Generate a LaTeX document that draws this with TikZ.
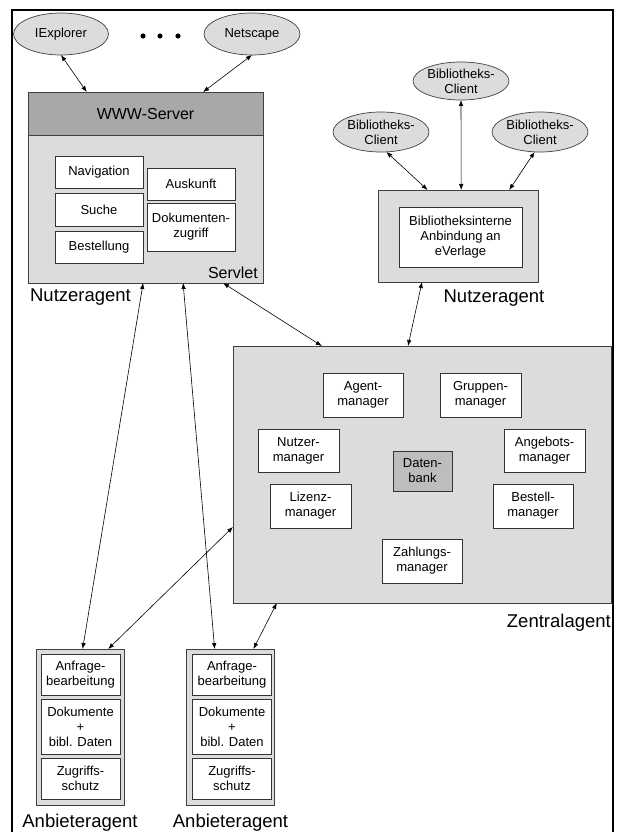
\documentclass[tikz,border=0pt]{standalone}
\usepackage{fontspec}
\setmainfont{Liberation Sans}
\usetikzlibrary{arrows.meta, calc, shapes.geometric}

\definecolor{panelgray}{HTML}{DCDCDC}
\definecolor{headgray}{HTML}{A8A8A8}
\definecolor{dbgray}{HTML}{BDBDBD}

\tikzset{
  box/.style={draw=black!80, fill=white, line width=0.8pt, inner sep=0pt, outer sep=0pt,
    align=center, font=\fontsize{13}{15}\selectfont},
  panel/.style={draw=black!75, fill=panelgray, line width=0.8pt, inner sep=0pt, outer sep=0pt},
  client/.style={ellipse, draw=black!75, fill=panelgray, line width=0.7pt, inner sep=0pt,
    outer sep=0pt, align=center, font=\fontsize{13}{15}\selectfont},
  agentlabel/.style={inner sep=0pt, font=\fontsize{18.5}{20}\selectfont},
  link/.style={{Latex[length=6pt,width=4.5pt]}-{Latex[length=6pt,width=4.5pt]}, line width=0.6pt}
}

\begin{document}
\begin{tikzpicture}[x=1pt, y=-1pt]
    \useasboundingbox (0,0) rectangle (618,832);
    % Frame
    \draw[line width=1.5pt] (12,832) -- (12,10) -- (613,10) -- (613,832);

    % Browsers
    \node[client, minimum width=95pt, minimum height=42pt] (ie) at (61,34) {IExplorer};
    \node[client, minimum width=96pt, minimum height=42pt] (ns) at (252,34) {Netscape};
    \foreach \x in {143,160,178}
        \fill (\x,36) circle (2.6pt);

    % Nutzeragent (WWW)
    \node[panel, minimum width=235pt, minimum height=191pt] (www) at (145.5,187.5) {};
    \node[panel, fill=headgray, minimum width=235pt, minimum height=43pt,
        font=\fontsize{16}{18}\selectfont] (head) at (145.5,113.5) {WWW-Server};
    \node[box, minimum width=88pt, minimum height=32pt] (nav) at (99,172) {Navigation};
    \node[box, minimum width=88pt, minimum height=33pt] (suche) at (99,209.5) {Suche};
    \node[box, minimum width=88pt, minimum height=32pt] (bestellung) at (99,247) {Bestellung};
    \node[box, minimum width=88pt, minimum height=32pt] (auskunft) at (191,184) {Auskunft};
    \node[box, minimum width=88pt, minimum height=48pt] (zugriff) at (191,227) {Dokumenten-\\zugriff};
    \node[anchor=east, inner sep=0pt, font=\fontsize{16}{18}\selectfont] (servlet) at (258,273) {Servlet};
    \node[agentlabel] (nutzerA) at (80.5,297) {Nutzeragent};

    % Nutzeragent (Bibliothek)
    \node[client, minimum width=96pt, minimum height=38pt] (bt) at (461,81) {Bibliotheks-\\Client};
    \node[client, minimum width=96pt, minimum height=40pt] (bl) at (381,132) {Bibliotheks-\\Client};
    \node[client, minimum width=96pt, minimum height=40pt] (br) at (540,132) {Bibliotheks-\\Client};
    \node[panel, minimum width=160pt, minimum height=92pt] (lib) at (458,236) {};
    \node[box, minimum width=123pt, minimum height=60pt] (anbindung) at (460.5,237)
        {Bibliotheksinterne\\Anbindung an\\eVerlage};
    \node[agentlabel] (nutzerB) at (494,298) {Nutzeragent};

    % Zentralagent
    \node[panel, minimum width=378pt, minimum height=257pt] (zentral) at (422,474.5) {};
    \node[box, minimum width=80pt, minimum height=44pt] (agentm) at (363,395) {Agent-\\manager};
    \node[box, minimum width=81pt, minimum height=44pt] (gruppenm) at (480.5,395) {Gruppen-\\manager};
    \node[box, minimum width=81pt, minimum height=43pt] (nutzerm) at (298.5,450.5) {Nutzer-\\manager};
    \node[box, minimum width=81pt, minimum height=43pt] (angebotm) at (544.5,450.5) {Angebots-\\manager};
    \node[box, fill=dbgray, minimum width=59pt, minimum height=40pt] (db) at (422.5,471) {Daten-\\bank};
    \node[box, minimum width=81pt, minimum height=44pt] (lizenzm) at (310.5,506) {Lizenz-\\manager};
    \node[box, minimum width=80pt, minimum height=44pt] (bestellm) at (533,506) {Bestell-\\manager};
    \node[box, minimum width=80pt, minimum height=44pt] (zahlungm) at (422,561) {Zahlungs-\\manager};
    \node[agentlabel, anchor=east] (zentralA) at (611,623) {Zentralagent};

    % Anbieteragenten
    \foreach \n/\cx/\ix in {1/80/80.5, 2/230.5/232} {
        \node[panel, minimum width=88pt, minimum height=156pt] (anb\n) at (\cx,727) {};
        \node[box, minimum width=79pt, minimum height=41pt] (anfrage\n) at (\ix,674.5) {Anfrage-\\bearbeitung};
        \node[box, minimum width=79pt, minimum height=55pt] (doku\n) at (\ix,726.5) {Dokumente\\+\\bibl. Daten};
        \node[box, minimum width=79pt, minimum height=41pt] (schutz\n) at (\ix,778.5) {Zugriffs-\\schutz};
        \node[agentlabel] (anbA\n) at (\cx,823) {Anbieteragent};
    }

    % Verbindungen
    \draw[link] (ie.south) -- ($(www.north west)!.25!(www.north east)$);
    \draw[link] (ns.south) -- ($(www.north west)!.745!(www.north east)$);
    \draw[link] (bl.-75) -- ($(lib.north west)!.31!(lib.north east)$);
    \draw[link] (bt.south) -- ($(lib.north west)!.52!(lib.north east)$);
    \draw[link] (br.-105) -- ($(lib.north west)!.82!(lib.north east)$);
    \draw[link] ($(lib.south west)!.275!(lib.south east)$) -- ($(zentral.north west)!.463!(zentral.north east)$);
    \draw[link] ($(www.south west)!.83!(www.south east)$) -- ($(zentral.north west)!.235!(zentral.north east)$);
    \draw[link] ($(www.south west)!.49!(www.south east)$) -- ($(anb1.north west)!.53!(anb1.north east)$);
    \draw[link] ($(www.south west)!.66!(www.south east)$) -- ($(anb2.north west)!.32!(anb2.north east)$);
    \draw[link] ($(anb1.north west)!.82!(anb1.north east)$) -- ($(zentral.north west)!.704!(zentral.south west)$);
    \draw[link] ($(anb2.north west)!.76!(anb2.north east)$) -- ($(zentral.south west)!.116!(zentral.south east)$);
\end{tikzpicture}
\end{document}
